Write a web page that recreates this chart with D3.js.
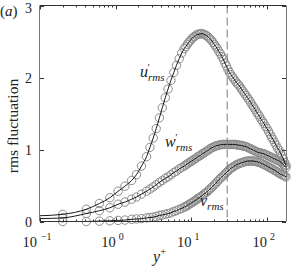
<!DOCTYPE html>
<html><head><meta charset="utf-8">
<script src="https://cdn.jsdelivr.net/npm/d3@7"></script>
<style>body{margin:0;background:#fff}svg{display:block}text{font-family:"Liberation Serif","Times New Roman","DejaVu Serif",serif}</style>
</head><body>
<script>
// y+ positions of the samples
const yPlus = [0.2,0.41,0.61,0.84,1.08,1.33,1.63,1.89,2.2,2.57,2.85,3.15,3.45,3.8,4.15,4.55,4.95,5.4,5.9,6.4,6.95,7.5,
  8.1,8.5,8.9,9.3,9.75,10.2,10.7,11.2,11.7,12.25,12.8,13.4,14.0,14.7,15.4,16.1,16.9,17.7,18.5,19.4,20.3,21.2,22.2,23.3,24.4,
  25.5,26.7,28.0,29.3,30.7,32.1,33.6,35.2,36.8,38.6,40.4,42.3,44.3,46.3,48.5,50.8,53.2,55.7,58.3,61.0,63.9,66.9,70.0,73.3,76.8,
  80.4,84.1,88.1,92.2,96.5,101,106,111,116,121,127,133,139,146,152,159,166,173,180];
const uRms = [0.10,0.17,0.25,0.33,0.42,0.49,0.57,0.65,0.77,0.90,1.03,1.16,1.29,1.44,1.58,1.72,1.84,1.96,2.07,2.17,2.26,2.34,
  2.40,2.43,2.46,2.49,2.51,2.54,2.56,2.57,2.59,2.60,2.60,2.61,2.61,2.60,2.59,2.58,2.56,2.54,2.52,2.49,2.46,2.43,2.40,2.36,2.33,
  2.29,2.25,2.20,2.16,2.11,2.07,2.04,2.01,1.98,1.95,1.92,1.90,1.87,1.84,1.81,1.78,1.75,1.72,1.69,1.66,1.62,1.59,1.56,1.52,1.49,
  1.46,1.42,1.39,1.36,1.32,1.29,1.25,1.21,1.17,1.14,1.10,1.06,1.02,0.99,0.95,0.91,0.87,0.82,0.78];
const wRms = [0.05,0.11,0.15,0.19,0.24,0.27,0.31,0.34,0.38,0.42,0.45,0.48,0.51,0.545,0.57,0.60,0.62,0.65,0.68,0.70,0.73,0.75,
  0.77,0.785,0.80,0.815,0.83,0.84,0.855,0.87,0.88,0.90,0.91,0.92,0.94,0.95,0.965,0.98,0.99,1.01,1.02,1.03,1.04,1.05,1.055,1.06,1.065,
  1.07,1.07,1.07,1.07,1.07,1.07,1.07,1.07,1.07,1.07,1.065,1.06,1.06,1.055,1.05,1.045,1.04,1.03,1.02,1.01,1.00,0.99,0.98,0.97,0.96,
  0.955,0.95,0.945,0.94,0.93,0.92,0.91,0.90,0.89,0.88,0.87,0.86,0.85,0.84,0.83,0.81,0.79,0.77,0.75];
const vRms = [0.0,0.0,0.005,0.01,0.015,0.02,0.03,0.035,0.04,0.05,0.055,0.06,0.07,0.085,0.09,0.10,0.11,0.12,0.14,0.15,0.17,0.18,
  0.20,0.21,0.22,0.235,0.25,0.26,0.275,0.29,0.30,0.32,0.33,0.345,0.36,0.38,0.395,0.41,0.43,0.45,0.47,0.49,0.51,0.53,0.555,0.58,0.60,
  0.62,0.64,0.66,0.68,0.70,0.72,0.74,0.75,0.765,0.78,0.79,0.80,0.81,0.815,0.82,0.83,0.835,0.84,0.84,0.84,0.84,0.84,0.835,0.83,0.825,
  0.82,0.81,0.80,0.79,0.78,0.77,0.755,0.745,0.735,0.725,0.71,0.70,0.685,0.67,0.66,0.65,0.64,0.63,0.62];
// line values at the first point (y+ = 0.1)
const lineStartYPlus = 0.1;
const lineStartU = 0.08, lineStartW = 0.04, lineStartV = 0.0;
const xDomain = [0.1, 180];
const yDomain = [0, 3];
const xMajorExps = [-1, 0, 1, 2];
const yTickValues = [0, 1, 2, 3];
const refYPlus = 30;
const seriesNames = ["u", "w", "v"];

const W = 291, H = 268;
const FONT = "'Liberation Serif','Times New Roman','DejaVu Serif',serif";
const svg = d3.select("body").append("svg").attr("width", W).attr("height", H)
  .attr("font-family", FONT);

const x = d3.scaleLog().domain(xDomain).range([40, 286]);
const y = d3.scaleLinear().domain(yDomain).range([221.5, 5.5]);

const series = [
  {name: "u", vals: uRms, start: lineStartU},
  {name: "w", vals: wRms, start: lineStartW},
  {name: "v", vals: vRms, start: lineStartV}
];

// markers
const mk = svg.append("g");
series.forEach(s => {
  mk.selectAll(null).data(yPlus.map((yp, i) => [yp, s.vals[i]])).enter()
    .append("circle")
    .attr("cx", d => x(d[0])).attr("cy", d => y(d[1])).attr("r", 4.2)
    .attr("fill", "none").attr("stroke", "#8c8c8c").attr("stroke-width", 1);
});

// lines
const line = d3.line().x(d => x(d[0])).y(d => y(d[1])).curve(d3.curveMonotoneX);
series.forEach(s => {
  const pts = [[lineStartYPlus, s.start]].concat(yPlus.map((yp, i) => [yp, s.vals[i]]));
  svg.append("path").attr("d", line(pts)).attr("fill", "none")
    .attr("stroke", "#000").attr("stroke-width", 0.9);
});

// dashed reference line
svg.append("line").attr("x1", x(refYPlus)).attr("x2", x(refYPlus))
  .attr("y1", y(3)).attr("y2", y(0))
  .attr("stroke", "#777").attr("stroke-width", 1).attr("stroke-dasharray", "8,4");

// axes box
const ax = svg.append("g").attr("stroke-width", 1).attr("fill", "none");
ax.append("line").attr("x1", 40).attr("x2", 286).attr("y1", 5.5).attr("y2", 5.5).attr("stroke", "#333");
ax.append("line").attr("x1", 40).attr("x2", 286).attr("y1", 221.5).attr("y2", 221.5).attr("stroke", "#333");
ax.append("line").attr("x1", 39.5).attr("x2", 39.5).attr("y1", 5.5).attr("y2", 221.5).attr("stroke", "#777");
ax.append("line").attr("x1", 286.5).attr("x2", 286.5).attr("y1", 5.5).attr("y2", 221.5).attr("stroke", "#777");

// x ticks
const xMinor = [];
xMajorExps.forEach(e => { for (let k = 2; k <= 9; k++) { const v = k * Math.pow(10, e); if (v <= xDomain[1]) xMinor.push(v); } });
const xMajor = xMajorExps.map(e => Math.pow(10, e));
const tk = ax.append("g").attr("stroke", "#333");
xMajor.forEach(v => {
  const px = Math.round(x(v)) + 0.5;
  tk.append("line").attr("x1", px).attr("x2", px).attr("y1", 221.5).attr("y2", 217.5);
  tk.append("line").attr("x1", px).attr("x2", px).attr("y1", 5.5).attr("y2", 9.5);
});
xMinor.forEach(v => {
  const px = Math.round(x(v)) + 0.5;
  tk.append("line").attr("x1", px).attr("x2", px).attr("y1", 221.5).attr("y2", 219.5);
  tk.append("line").attr("x1", px).attr("x2", px).attr("y1", 5.5).attr("y2", 7.5);
});
// y ticks
yTickValues.forEach(v => {
  const py = Math.round(y(v)) + 0.5;
  tk.append("line").attr("x1", 40).attr("x2", 44).attr("y1", py).attr("y2", py);
  tk.append("line").attr("x1", 286).attr("x2", 282).attr("y1", py).attr("y2", py);
});

// tick labels
xMajorExps.forEach(e => {
  const t = svg.append("text").attr("x", x(Math.pow(10, e)) - 3).attr("y", 247)
    .attr("text-anchor", "middle").attr("font-size", 14.5).attr("fill", "#222");
  t.append("tspan").text("10");
  t.append("tspan").attr("dx", e < 0 ? 4 : 3).attr("dy", -7).attr("font-size", 10)
    .text(e < 0 ? "\u2212" + Math.abs(e) : String(e));
});
yTickValues.forEach(v => {
  svg.append("text").attr("x", 32).attr("y", Math.max(y(v) + 5, 12.5)).attr("text-anchor", "end")
    .attr("font-size", 14).attr("fill", "#222").text(v);
});

// axis titles
svg.append("text").attr("transform", "translate(18,126) rotate(-90)")
  .attr("text-anchor", "middle").attr("font-size", 15.5).attr("fill", "#222").text("rms fluctuation");
const xl = svg.append("text").attr("x", 153).attr("y", 262).attr("font-size", 16).attr("fill", "#222");
xl.append("tspan").attr("font-style", "italic").text("y");
xl.append("tspan").attr("dy", -7).attr("font-size", 11).text("+");

const pa = svg.append("text").attr("x", 0).attr("y", 16).attr("font-size", 15).attr("fill", "#222");
pa.append("tspan").text("(");
pa.append("tspan").attr("font-style", "italic").text("a");
pa.append("tspan").text(")");

// series labels
const labelPos = {u: [140, 77], w: [165, 147], v: [200, 206]};
seriesNames.forEach(n => {
  const [lx, ly] = labelPos[n];
  const g = svg.append("g").attr("fill", "#222").attr("font-style", "italic");
  const main = g.append("text").attr("x", lx).attr("y", ly).attr("font-size", 16).text(n);
  const wMain = main.node().getComputedTextLength();
  g.append("text").attr("x", lx + wMain - 1).attr("y", ly - 6).attr("font-size", 10).text("\u2032");
  g.append("text").attr("x", lx + wMain).attr("y", ly + 4).attr("font-size", 11).text("rms");
});
</script>
</body></html>
